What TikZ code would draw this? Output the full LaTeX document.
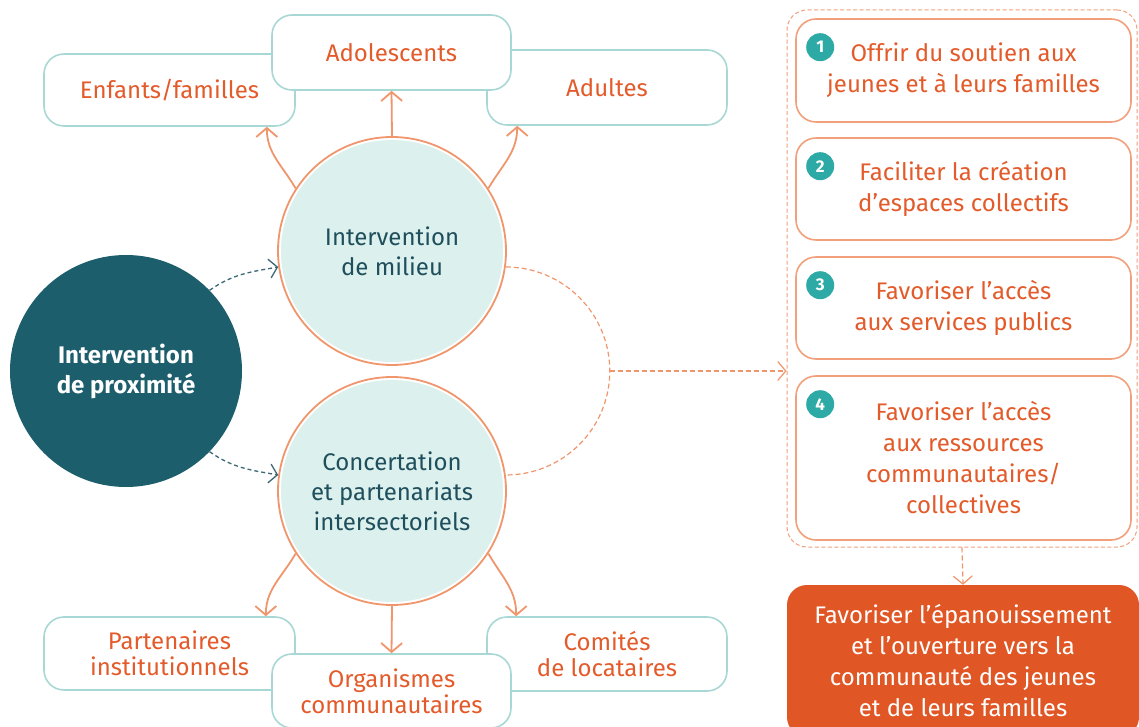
\documentclass[tikz,border=0pt]{standalone}
\usepackage{fontspec}
\setmainfont{Fira Sans}
\usetikzlibrary{arrows.meta,positioning,calc}
\definecolor{tealline}{HTML}{A8D8D5}
\definecolor{orngtxt}{HTML}{E35B2A}
\definecolor{orngline}{HTML}{F0966C}
\definecolor{milfill}{HTML}{DCF0EE}
\definecolor{darkteal}{HTML}{1D5E6C}
\definecolor{circtxt}{HTML}{1F4F5C}
\definecolor{dashteal}{HTML}{3B6977}
\definecolor{badgeteal}{HTML}{2EAAA6}
\definecolor{oboxline}{HTML}{F2A07C}
\definecolor{finfill}{HTML}{E05624}

\begin{document}
\begin{tikzpicture}[x = 1pt, y = 1pt,
  tbox/.style = {draw = tealline, line width = 1.6pt, fill = white, rounded corners = 20pt,
    text = orngtxt, align = center, font = \fontsize{24}{26}\selectfont, inner sep = 0pt},
  ring/.style = {circle, draw = orngline, line width = 1.8pt, fill = white, minimum size = 228pt,
    path picture = {\fill[milfill] (path picture bounding box.center) circle (111pt);},
    text = circtxt, align = center, font = \fontsize{24}{30}\selectfont},
  prox/.style = {circle, fill = darkteal, minimum size = 232pt, text = white, align = center,
    font = \bfseries\fontsize{24}{30}\selectfont},
  obox/.style = {draw = oboxline, line width = 1.6pt, fill = white, rounded corners = 20pt,
    minimum width = 335pt, text = orngtxt, align = center, font = \fontsize{24}{31}\selectfont},
  badge/.style = {circle, fill = badgeteal, minimum size = 28pt, inner sep = 0pt, text = white,
    font = \bfseries\fontsize{17}{17}\selectfont},
  frame/.style = {draw = oboxline, line width = 1pt, dash pattern = on 4pt off 2.5pt, rounded corners = 20pt},
  fin/.style = {fill = finfill, rounded corners = 20pt, text = white, align = center,
    minimum width = 352pt, minimum height = 152pt, font = \fontsize{24}{31}\selectfont},
  oarr/.style = {draw = orngline, line width = 1.8pt, -{Straight Barb[length = 9pt, width = 21pt]}},
  darr/.style = {draw = dashteal, line width = 1.3pt, dash pattern = on 4pt off 3pt,
    -{Straight Barb[length = 8pt, width = 19pt, line width = 1.3pt]}},
  larr/.style = {draw = orngline, line width = 1.2pt, dash pattern = on 5pt off 3pt}]

\fill[white] (0, 0) rectangle (1139, 726);
\useasboundingbox (0, 0) rectangle (1139, 726);

% target groups
\node[tbox, minimum width = 251pt, minimum height = 72pt] (ef) at (169.5, 636) {Enfants/familles};
\node[tbox, minimum width = 240pt, minimum height = 75pt] (al) at (607, 638.5) {Adultes};
\node[tbox, minimum width = 239pt, minimum height = 75pt] (ad) at (391.5, 673.5) {Adolescents};

% partners
\node[tbox, minimum width = 251pt, minimum height = 73pt] (pi) at (169.5, 72.5) {Partenaires\\institutionnels};
\node[tbox, minimum width = 240pt, minimum height = 74pt] (cl) at (607, 72) {Comités\\de locataires};
\node[tbox, minimum width = 239pt, minimum height = 74pt] (oc) at (391.5, 35) {Organismes\\communautaires};

% circles
\node[ring] (m) at (392, 475) {Intervention\\de milieu};
\node[ring] (c) at (392, 235) {Concertation\\et partenariats\\intersectoriels};
\node[prox] (p) at (126, 355) {Intervention\\de proximité};

\draw[oarr] (m.147) to[out = 120, in = -90] ([xshift = -29pt]ef.south east);
\draw[oarr] (m.north) -- (ad.south);
\draw[oarr] (m.33) to[out = 60, in = -90] ([xshift = 31pt]al.south west);

\draw[oarr] (c.213) to[out = 240, in = 90] ([xshift = -30pt]pi.north east);
\draw[oarr] (c.south) -- (oc.north);
\draw[oarr] (c.-33) to[out = -60, in = 90] ([xshift = 30pt]cl.north west);

\draw[darr] (p.44) to[out = 35, in = 190] (m.188);
\draw[darr] (p.-44) to[out = -35, in = 170] (c.172);

% objectives
\node[frame, minimum width = 350pt, minimum height = 537pt] (ctr) at (962, 447.5) {};
\node[obox, minimum height = 103pt] (o1) at (963.5, 655.5) {Offrir du soutien aux\\jeunes et à leurs familles};
\node[obox, minimum height = 102pt] (o2) at (963.5, 537) {Faciliter la création\\d’espaces collectifs};
\node[obox, minimum height = 102pt] (o3) at (963.5, 418) {Favoriser l’accès\\aux services publics};
\node[obox, minimum height = 164pt] (o4) at (963.5, 268) {Favoriser l’accès\\aux ressources\\communautaires/\\collectives};
\foreach \i in {1,...,4}
  \node[badge] (n\i) at ($(o\i.north west) + (25, -29)$) {\i};

\draw[larr] (m.-8) arc[start angle = 90, end angle = 0, radius = 104pt] coordinate (jn)
  arc[start angle = 0, end angle = -90, radius = 104pt];
\draw[larr, -{Straight Barb[length = 8pt, width = 19pt, line width = 1.2pt]}] (jn) -- (jn -| ctr.west);

\node[fin] (fv) at (963, 65) {Favoriser l’épanouissement\\et l’ouverture vers la\\communauté des jeunes\\et de leurs familles};
\draw[larr, -{Straight Barb[length = 8pt, width = 19pt, line width = 1.2pt]}] (ctr.south) -- (fv.north);

\end{tikzpicture}
\end{document}
